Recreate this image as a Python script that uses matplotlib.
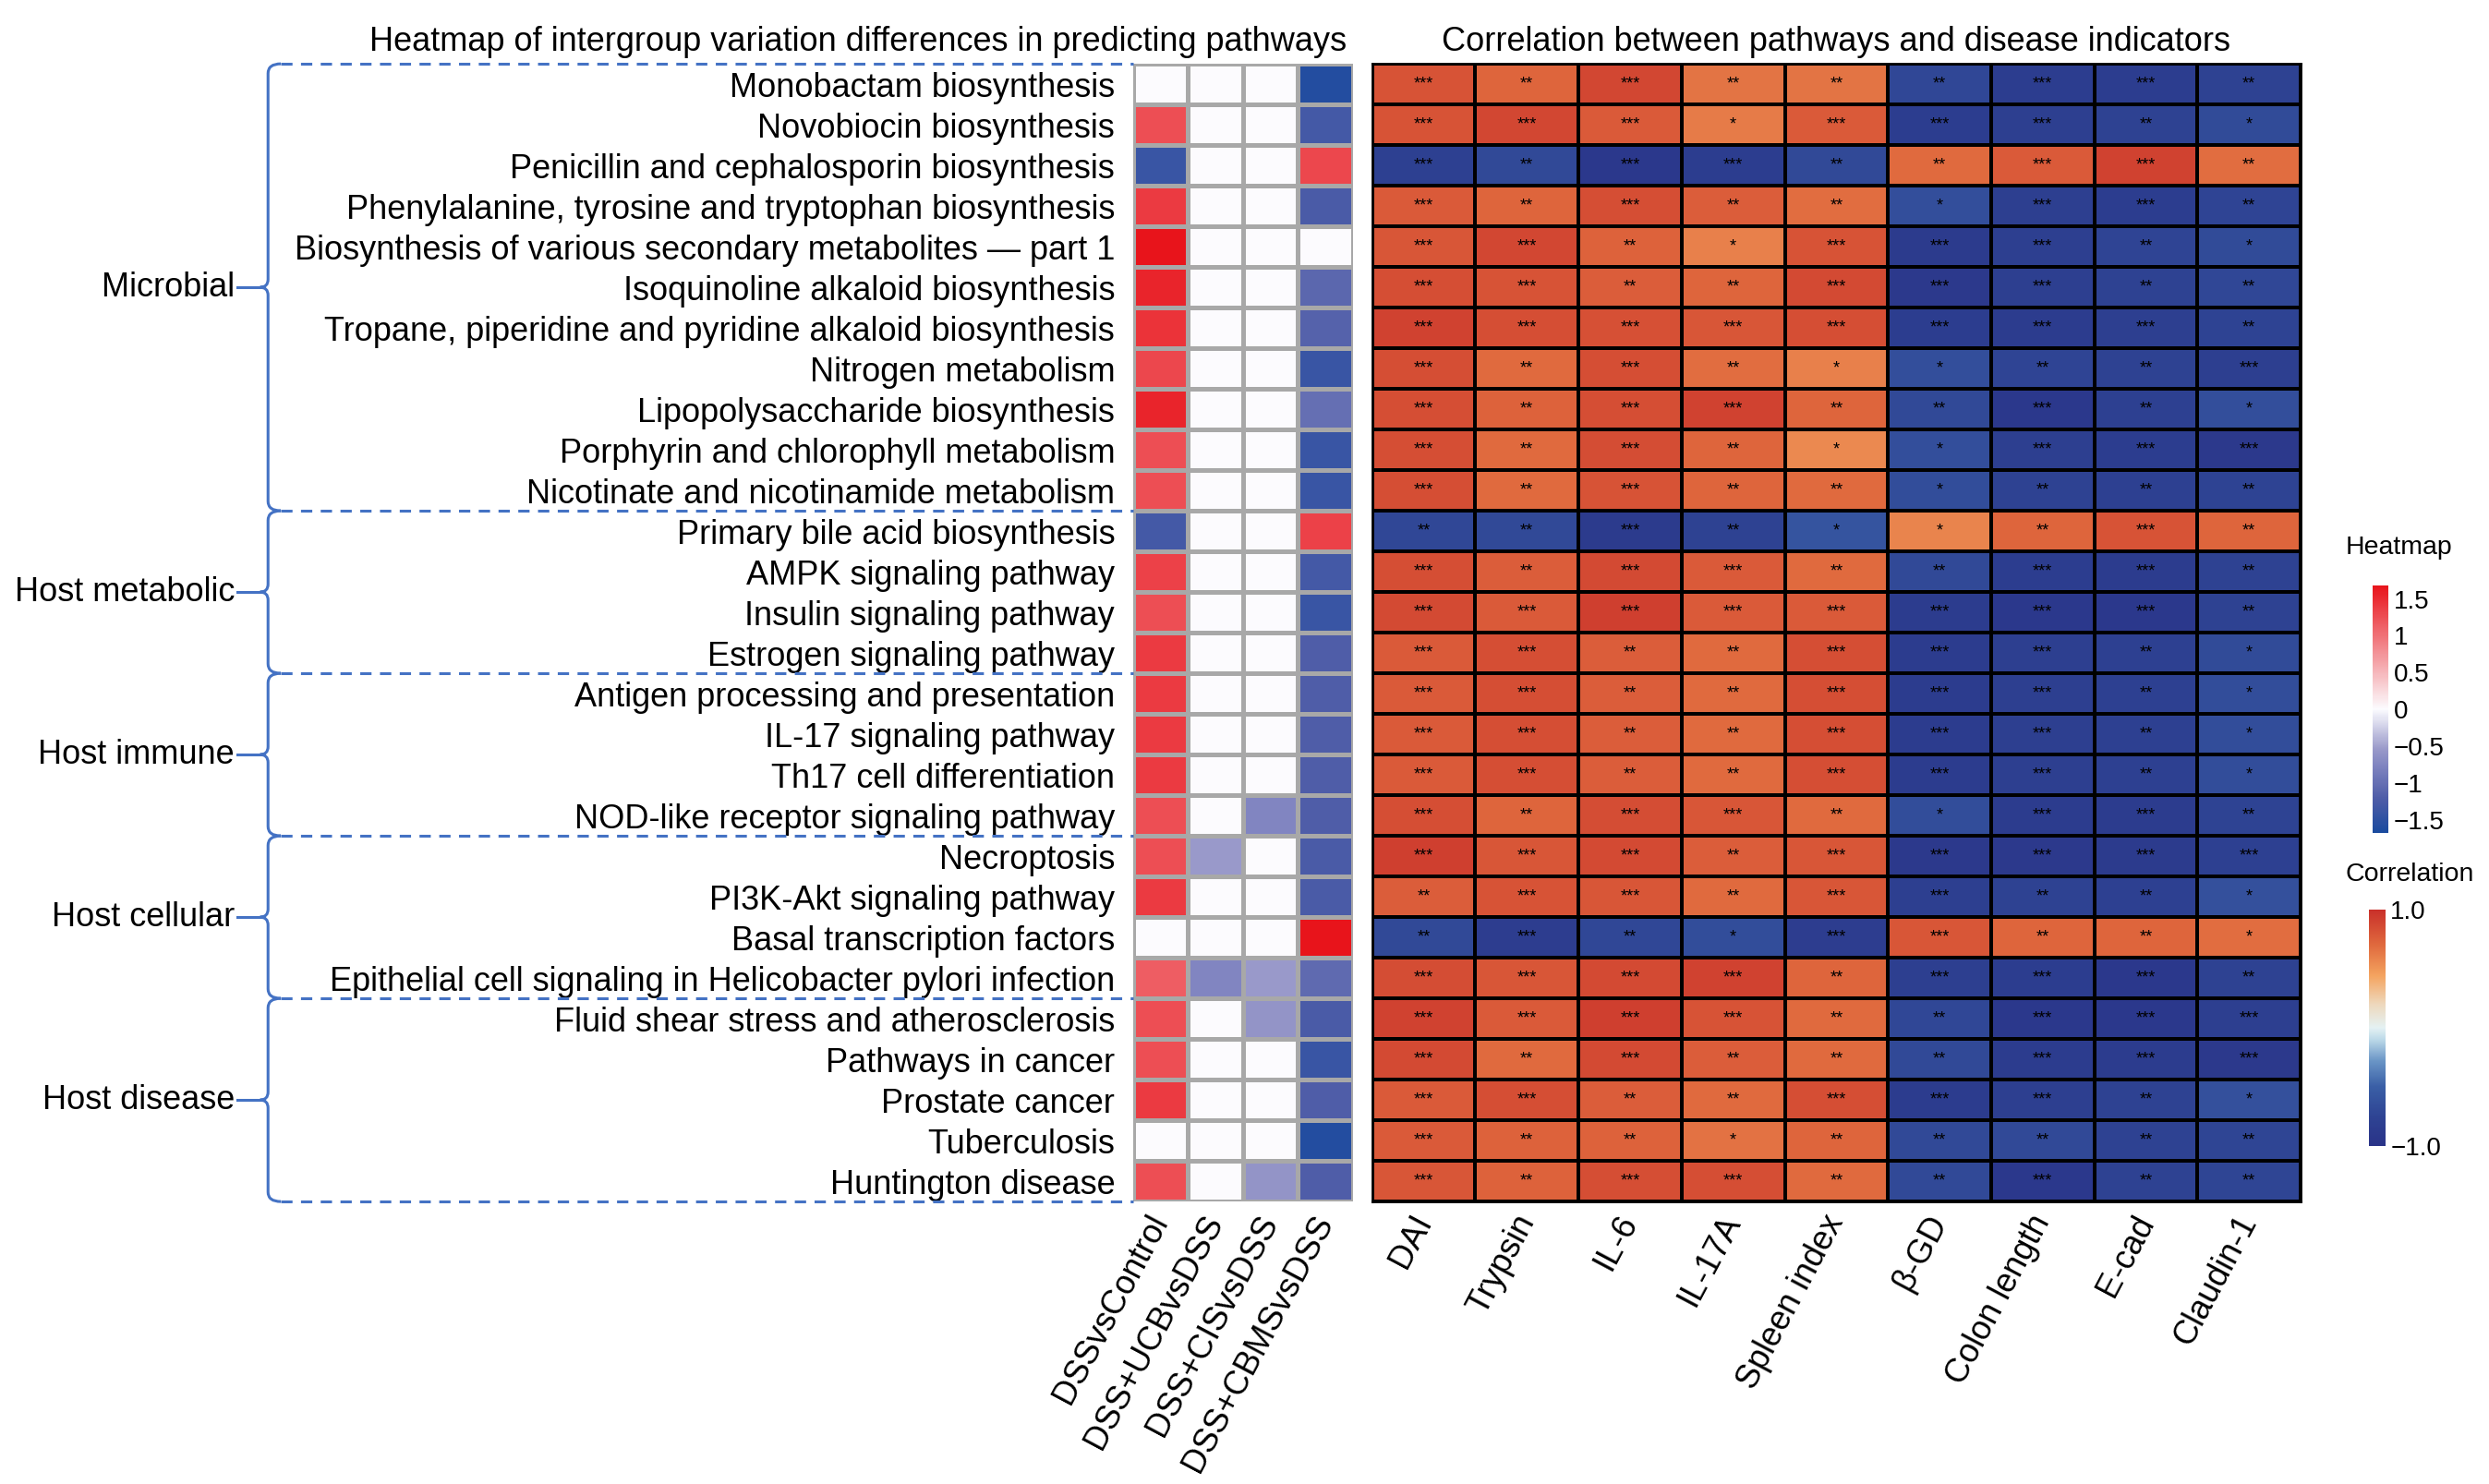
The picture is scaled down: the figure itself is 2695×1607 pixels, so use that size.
import numpy as np
import matplotlib
matplotlib.use("Agg")
import matplotlib.pyplot as plt
from matplotlib.colors import LinearSegmentedColormap
from matplotlib.path import Path
from matplotlib.patches import PathPatch
from matplotlib.lines import Line2D

plt.rcParams['font.family'] = ['Liberation Sans', 'DejaVu Sans']

# ---- data ----
pathways = [
    "Monobactam biosynthesis",
    "Novobiocin biosynthesis",
    "Penicillin and cephalosporin biosynthesis",
    "Phenylalanine, tyrosine and tryptophan biosynthesis",
    "Biosynthesis of various secondary metabolites \u2014 part 1",
    "Isoquinoline alkaloid biosynthesis",
    "Tropane, piperidine and pyridine alkaloid biosynthesis",
    "Nitrogen metabolism",
    "Lipopolysaccharide biosynthesis",
    "Porphyrin and chlorophyll metabolism",
    "Nicotinate and nicotinamide metabolism",
    "Primary bile acid biosynthesis",
    "AMPK signaling pathway",
    "Insulin signaling pathway",
    "Estrogen signaling pathway",
    "Antigen processing and presentation",
    "IL-17 signaling pathway",
    "Th17 cell differentiation",
    "NOD-like receptor signaling pathway",
    "Necroptosis",
    "PI3K-Akt signaling pathway",
    "Basal transcription factors",
    "Epithelial cell signaling in Helicobacter pylori infection",
    "Fluid shear stress and atherosclerosis",
    "Pathways in cancer",
    "Prostate cancer",
    "Tuberculosis",
    "Huntington disease",
]

groups = ["Microbial", "Host metabolic", "Host immune", "Host cellular", "Host disease"]
group_sizes = [11, 4, 4, 4, 5]

comparisons = ["DSSvsControl", "DSS+UCBvsDSS", "DSS+CISvsDSS", "DSS+CBMSvsDSS"]
indicators = ["DAI", "Trypsin", "IL-6", "IL-17A", "Spleen index",
              "\u03b2-GD", "Colon length", "E-cad", "Claudin-1"]

# intergroup differences (rows = pathways, cols = comparisons)
diff = [
    [0, 0, 0, -1.6],
    [1.25, 0, 0, -1.3],
    [-1.4, 0, 0, 1.3],
    [1.4, 0, 0, -1.25],
    [1.7, 0, 0, 0],
    [1.55, 0, 0, -1.1],
    [1.45, 0, 0, -1.15],
    [1.3, 0, 0, -1.4],
    [1.55, 0, 0, -1.0],
    [1.25, 0, 0, -1.4],
    [1.25, 0, 0, -1.4],
    [-1.3, 0, 0, 1.35],
    [1.35, 0, 0, -1.3],
    [1.25, 0, 0, -1.4],
    [1.4, 0, 0, -1.2],
    [1.4, 0, 0, -1.2],
    [1.4, 0, 0, -1.2],
    [1.4, 0, 0, -1.2],
    [1.25, 0, -0.75, -1.2],
    [1.25, -0.55, 0, -1.25],
    [1.4, 0, 0, -1.25],
    [0, 0, 0, 1.7],
    [1.15, -0.75, -0.55, -1.05],
    [1.25, 0, -0.6, -1.25],
    [1.25, 0, 0, -1.4],
    [1.4, 0, 0, -1.2],
    [0, 0, 0, -1.6],
    [1.25, 0, -0.6, -1.2],
]

# correlation with disease indicators
corr = [
    [0.82, 0.72, 0.88, 0.65, 0.65, -0.72, -0.85, -0.85, -0.78],
    [0.82, 0.88, 0.78, 0.62, 0.78, -0.85, -0.82, -0.78, -0.68],
    [-0.80, -0.70, -0.92, -0.85, -0.70, 0.70, 0.78, 0.90, 0.68],
    [0.78, 0.72, 0.84, 0.76, 0.68, -0.65, -0.82, -0.85, -0.75],
    [0.80, 0.88, 0.74, 0.60, 0.82, -0.88, -0.82, -0.75, -0.68],
    [0.84, 0.82, 0.76, 0.72, 0.86, -0.90, -0.82, -0.78, -0.72],
    [0.90, 0.84, 0.83, 0.80, 0.84, -0.85, -0.86, -0.82, -0.76],
    [0.84, 0.70, 0.84, 0.68, 0.60, -0.65, -0.75, -0.78, -0.82],
    [0.84, 0.74, 0.84, 0.90, 0.72, -0.70, -0.92, -0.80, -0.65],
    [0.84, 0.70, 0.85, 0.72, 0.56, -0.65, -0.82, -0.85, -0.90],
    [0.84, 0.70, 0.82, 0.72, 0.70, -0.66, -0.78, -0.80, -0.76],
    [-0.72, -0.70, -0.88, -0.78, -0.60, 0.58, 0.72, 0.82, 0.72],
    [0.84, 0.76, 0.86, 0.78, 0.70, -0.70, -0.85, -0.86, -0.78],
    [0.86, 0.78, 0.92, 0.78, 0.78, -0.86, -0.92, -0.92, -0.78],
    [0.78, 0.84, 0.76, 0.70, 0.84, -0.86, -0.82, -0.80, -0.68],
    [0.78, 0.84, 0.76, 0.70, 0.84, -0.86, -0.82, -0.80, -0.66],
    [0.78, 0.84, 0.76, 0.70, 0.84, -0.86, -0.82, -0.80, -0.66],
    [0.78, 0.84, 0.76, 0.70, 0.84, -0.86, -0.82, -0.80, -0.66],
    [0.84, 0.72, 0.85, 0.80, 0.70, -0.66, -0.86, -0.86, -0.76],
    [0.92, 0.80, 0.86, 0.76, 0.80, -0.90, -0.90, -0.88, -0.80],
    [0.76, 0.82, 0.80, 0.70, 0.80, -0.82, -0.78, -0.80, -0.64],
    [-0.70, -0.84, -0.72, -0.66, -0.84, 0.80, 0.72, 0.72, 0.68],
    [0.85, 0.80, 0.86, 0.90, 0.72, -0.82, -0.85, -0.92, -0.78],
    [0.90, 0.78, 0.92, 0.82, 0.70, -0.72, -0.92, -0.92, -0.82],
    [0.86, 0.70, 0.86, 0.76, 0.70, -0.70, -0.86, -0.86, -0.90],
    [0.78, 0.84, 0.76, 0.70, 0.84, -0.86, -0.82, -0.78, -0.64],
    [0.78, 0.74, 0.74, 0.66, 0.72, -0.70, -0.70, -0.78, -0.74],
    [0.80, 0.74, 0.84, 0.84, 0.70, -0.70, -0.92, -0.78, -0.74],
]

stars = [
    "*** ** *** ** ** ** *** *** **",
    "*** *** *** * *** *** *** ** *",
    "*** ** *** *** ** ** *** *** **",
    "*** ** *** ** ** * *** *** **",
    "*** *** ** * *** *** *** ** *",
    "*** *** ** ** *** *** *** ** **",
    "*** *** *** *** *** *** *** *** **",
    "*** ** *** ** * * ** ** ***",
    "*** ** *** *** ** ** *** ** *",
    "*** ** *** ** * * *** *** ***",
    "*** ** *** ** ** * ** ** **",
    "** ** *** ** * * ** *** **",
    "*** ** *** *** ** ** *** *** **",
    "*** *** *** *** *** *** *** *** **",
    "*** *** ** ** *** *** *** ** *",
    "*** *** ** ** *** *** *** ** *",
    "*** *** ** ** *** *** *** ** *",
    "*** *** ** ** *** *** *** ** *",
    "*** ** *** *** ** * *** *** **",
    "*** *** *** ** *** *** *** *** ***",
    "** *** *** ** *** *** ** ** *",
    "** *** ** * *** *** ** ** *",
    "*** *** *** *** ** *** *** *** **",
    "*** *** *** *** ** ** *** *** ***",
    "*** ** *** ** ** ** *** *** ***",
    "*** *** ** ** *** *** *** ** *",
    "*** ** ** * ** ** ** ** **",
    "*** ** *** *** ** ** *** ** **",
]

diff = np.array(diff)
corr = np.array(corr)
nrow = len(pathways)

# ---- colormaps ----
cmap_diff = LinearSegmentedColormap.from_list("diff", [
    (0.0, '#1A4A9E'), (0.14, '#4F5DA8'), (0.27, '#7F84C0'),
    (0.34, '#9A9ACA'), (0.5, '#FCFCFF'), (1.0, '#E8141B')])
cmap_corr = LinearSegmentedColormap.from_list("corr", [
    (0.0, '#2A3388'), (0.12, '#2E4393'), (0.25, '#3A5FA6'), (0.36, '#6A95C6'),
    (0.45, '#BCD9E8'), (0.5, '#E4F1F3'), (0.6, '#EED8BC'), (0.72, '#F4A460'),
    (0.85, '#E06A3E'), (1.0, '#C9302A')])
dlim = 1.68

fig = plt.figure(figsize=(26.95, 16.07), dpi=100)
W, H = 1560.0, 930.0

def fx(x):
    return x / W

def fy(y):
    return 1 - y / H

top, bot = 40, 753
fs = 26

# left heatmap
ax1 = fig.add_axes([fx(710), fy(bot), fx(848) - fx(710), fy(top) - fy(bot)])
m1 = ax1.pcolormesh(diff, cmap=cmap_diff, vmin=-dlim, vmax=dlim,
                    edgecolors='#A8A8A8', linewidth=2.2)
ax1.set_ylim(nrow, 0)
ax1.set_xlim(0, len(comparisons))
ax1.set_yticks(np.arange(nrow) + 0.5)
ax1.set_yticklabels(pathways, fontsize=fs)
ax1.set_xticks(np.arange(len(comparisons)) + 0.5)
ax1.set_xticklabels(comparisons, fontsize=fs, rotation=62, ha='right',
                    va='center', rotation_mode='anchor')
ax1.tick_params(length=0, pad=14)
ax1.tick_params(axis='x', pad=12)
for s in ax1.spines.values():
    s.set_visible(False)
ax1.set_title("Heatmap of intergroup variation differences in predicting pathways",
              fontsize=fs, pad=10, x=0.5 - 0.5 * (848 - 228 - 138) / 138)

# right heatmap
ax2 = fig.add_axes([fx(860), fy(bot), fx(1442) - fx(860), fy(top) - fy(bot)])
m2 = ax2.pcolormesh(corr, cmap=cmap_corr, vmin=-1, vmax=1,
                    edgecolors='black', linewidth=1.6)
ax2.set_ylim(nrow, 0)
ax2.set_xlim(0, len(indicators))
ax2.set_yticks([])
ax2.set_xticks(np.arange(len(indicators)) + 0.5)
ax2.set_xticklabels(indicators, fontsize=fs, rotation=62, ha='right',
                    va='center', rotation_mode='anchor')
ax2.tick_params(length=0, pad=12)
for s in ax2.spines.values():
    s.set_linewidth(2)
ax2.set_title("Correlation between pathways and disease indicators", fontsize=fs, pad=10)

for i in range(nrow):
    for j, st in enumerate(stars[i].split()):
        ax2.text(j + 0.5, i + 0.5, st, ha='center', va='center', fontsize=13,
                 color='black')

# colorbars
cax1 = fig.add_axes([fx(1487), fy(522), fx(10), 155 / H])
cb1 = fig.colorbar(m1, cax=cax1)
cb1.set_ticks([1.5, 1, 0.5, 0, -0.5, -1, -1.5])
cb1.set_ticklabels(["1.5", "1", "0.5", "0", "\u22120.5", "\u22121", "\u22121.5"])
cb1.ax.tick_params(length=0, labelsize=20, pad=4)
cb1.outline.set_visible(False)
fig.text(fx(1470), fy(343), "Heatmap", fontsize=20.5, ha='left', va='center')

cax2 = fig.add_axes([fx(1485), fy(718), fx(10), 148 / H])
cb2 = fig.colorbar(m2, cax=cax2)
cb2.set_ticks([1.0, -1.0])
cb2.set_ticklabels(["1.0", "\u22121.0"])
cb2.ax.tick_params(length=0, labelsize=20, pad=4)
cb2.outline.set_visible(False)
fig.text(fx(1470), fy(548), "Correlation", fontsize=20.5, ha='left', va='center')

# group braces
blue = '#4472C4'
row_h = (bot - top) / nrow
xs = 168
start = 0
for g, n in zip(groups, group_sizes):
    y0 = top + start * row_h
    y1 = top + (start + n) * row_h
    ym = (y0 + y1) / 2
    verts = [(fx(xs + 8), fy(y0)), (fx(xs), fy(y0)), (fx(xs), fy(y0 + 6)),
             (fx(xs), fy(ym - 5)), (fx(xs), fy(ym)), (fx(xs - 5), fy(ym)),
             (fx(xs), fy(ym)), (fx(xs), fy(ym + 5)),
             (fx(xs), fy(y1 - 6)), (fx(xs), fy(y1)), (fx(xs + 8), fy(y1))]
    codes = [Path.MOVETO, Path.CURVE3, Path.CURVE3,
             Path.LINETO, Path.CURVE3, Path.CURVE3,
             Path.CURVE3, Path.CURVE3,
             Path.LINETO, Path.CURVE3, Path.CURVE3]
    fig.add_artist(PathPatch(Path(verts, codes), transform=fig.transFigure,
                             fill=False, edgecolor=blue, linewidth=2.2))
    fig.add_artist(Line2D([fx(xs - 19), fx(xs - 5)], [fy(ym), fy(ym)],
                          transform=fig.transFigure, color=blue, linewidth=2.2))
    fig.text(fx(xs - 21), fy(ym), g, fontsize=fs, ha='right', va='center')
    start += n

bounds = np.cumsum([0] + group_sizes)
for b in bounds:
    yb = top + b * row_h
    fig.add_artist(Line2D([fx(xs + 8), fx(710)], [fy(yb), fy(yb)],
                          transform=fig.transFigure, color=blue, linewidth=2.2,
                          linestyle=(0, (4, 3))))

fig.savefig("out.png", dpi=100)
